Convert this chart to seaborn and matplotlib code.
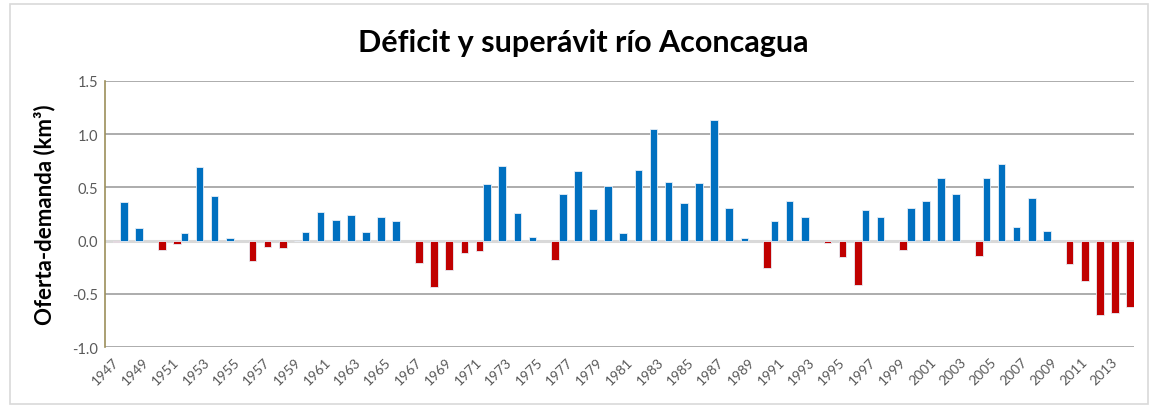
import matplotlib
matplotlib.use("Agg")
import matplotlib.pyplot as plt
import seaborn as sns
import numpy as np
import pandas as pd
from matplotlib.patches import Rectangle

# balance oferta-demanda por año (km3)
years = list(range(1947, 2015))
balance = [
    -0.01, 0.36, 0.12, -0.09, -0.03, 0.07, 0.69, 0.42, 0.02, -0.19,
    -0.06, -0.07, -0.005, 0.08, 0.27, 0.19, 0.24, 0.08, 0.22, 0.18,
    -0.21, -0.44, -0.28, -0.12, -0.10, 0.53, 0.70, 0.26, 0.03, -0.18,
    0.44, 0.65, 0.30, 0.51, 0.07, 0.66, 1.05, 0.55, 0.35, 0.54,
    1.13, 0.31, 0.025, -0.26, 0.18, 0.37, 0.22, -0.025, -0.15, -0.42,
    0.29, 0.22, -0.09, 0.31, 0.37, 0.59, 0.44, -0.14, 0.59, 0.72,
    0.13, 0.40, 0.09, -0.22, -0.38, -0.70, -0.68, -0.62,
]
yticks = [-1.0, -0.5, 0.0, 0.5, 1.0, 1.5]

df = pd.DataFrame({"year": [str(y) for y in years], "balance": balance})
df["tipo"] = np.where(df["balance"] > 0, "Superávit", "Déficit")

sns.set_style("white")
plt.rcParams['font.family'] = ['Lato', 'DejaVu Sans']

fig = plt.figure(figsize=(11.51, 4.10), dpi=100)
ax = fig.add_axes([0.0912, 0.1512, 0.894, 0.6488])

ax.set_ylim(-1.0, 1.5)
ax.set_yticks(yticks)
for t in yticks:
    if t == 0:
        ax.axhline(t, color="#d9d9d9", lw=2.2, zorder=0)
    else:
        ax.axhline(t, color="#a6a6a6", lw=1.3, zorder=0)

sns.barplot(
    data=df, x="year", y="balance", hue="tipo",
    hue_order=["Superávit", "Déficit"],
    palette={"Superávit": "#0070c0", "Déficit": "#c00000"},
    order=[str(y) for y in years],
    width=1.0, dodge=True, legend=False, saturation=1,
    edgecolor="#e8eef6", linewidth=0.6,
    ax=ax,
)

ax.set_xlim(-0.5, len(years) - 0.5)
ax.set_xticks(range(0, len(years), 2))
ax.set_xticklabels([str(y) for y in years[::2]], rotation=45, ha="right",
                   rotation_mode="anchor", fontsize=10, color="#595959")
ax.set_yticklabels([f"{t:.1f}" for t in yticks], fontsize=10.5, color="#595959")
ax.tick_params(axis="both", length=0, pad=5)
ax.tick_params(axis="x", pad=6)

for s in ["top", "right", "bottom"]:
    ax.spines[s].set_visible(False)
ax.spines["left"].set_color("#9c8f5a")
ax.spines["left"].set_linewidth(1.2)

ax.set_xlabel("")
ax.set_ylabel("Oferta-demanda (km³)", fontsize=16, fontweight="bold",
              color="black", labelpad=12)

fig.text(0.507, 0.895, "Déficit y superávit río Aconcagua", ha="center",
         va="center", fontsize=22, fontweight="bold", color="black")

# marco exterior del gráfico
fig.patches.append(Rectangle((0.009, 0.012), 0.988, 0.975, transform=fig.transFigure,
                             fill=False, edgecolor="#d9d9d9", lw=1.2))

fig.savefig("out.png", dpi=100)
